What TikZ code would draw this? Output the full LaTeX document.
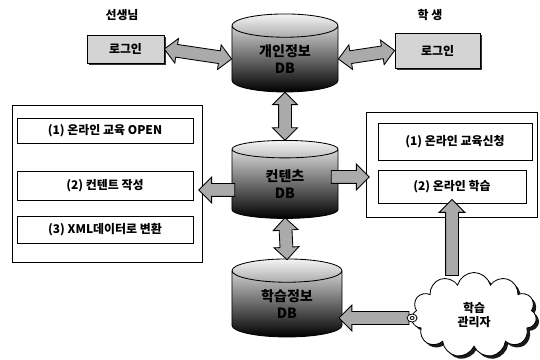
\documentclass[tikz,border=0pt]{standalone}
\usepackage{fontspec}
\setmainfont{Noto Sans CJK KR}
\usepackage{tikz}
\usetikzlibrary{positioning,calc,shapes.geometric,shapes.arrows,shapes.symbols,shadows}
\definecolor{boxgray}{RGB}{212,212,212}
\definecolor{arrgray}{RGB}{170,170,170}

\begin{document}
\begin{tikzpicture}[x=0.025cm,y=-0.025cm,line width=0.6pt,
    font=\fontsize{8.5}{10}\selectfont\bfseries]
  \tikzset{
    login/.style={draw,fill=boxgray,inner sep=0pt,
      drop shadow={shadow xshift=1.5pt,shadow yshift=-1.5pt,fill=black,opacity=0.8}},
    dbcyl/.style={cylinder,shape border rotate=90,draw,aspect=0.45,inner sep=0pt,
      top color=gray!8,middle color=gray!55,bottom color=black,
      minimum width=2.65cm,minimum height=1.95cm,align=center,
      font=\fontsize{10}{12}\selectfont\bfseries},
    outerbox/.style={draw,fill=white,inner sep=0pt},
    stepbox/.style={draw,fill=white,inner sep=0pt,
      drop shadow={shadow xshift=0.8pt,shadow yshift=-0.8pt,fill=black,opacity=0.9}},
    dblarr/.style={double arrow,draw,fill=arrgray,inner xsep=0pt,inner ysep=0.15cm,
      double arrow head extend=0.15cm,sloped,allow upside down},
    sarr/.style={single arrow,draw,fill=arrgray,inner xsep=0pt,inner ysep=0.15cm,
      single arrow head extend=0.16cm,sloped,allow upside down},
  }
  \useasboundingbox (0,0) rectangle (540,360);
  % titles
  \node (tlabel) at (122,15) {선생님};
  \node (slabel) at (430,15) {학 생};
  % login boxes
  \node[login,minimum width=1.925cm,minimum height=0.7cm] (tlogin) at (125.5,49) {로그인};
  \node[login,minimum width=2.125cm,minimum height=0.875cm] (slogin) at (437.5,50.5) {로그인};
  % databases
  \node[dbcyl] (pinfo) at (285,59) {개인정보\\DB};
  \node[dbcyl] (cont) at (285,184) {컨텐츠\\DB};
  \node[dbcyl,minimum width=2.75cm] (lrn) at (287,304) {학습정보\\DB};
  % teacher side
  \node[outerbox,minimum width=4.75cm,minimum height=3.925cm] (lbox) at (107,183.5) {};
  \node[stepbox,minimum width=4.4cm,minimum height=0.625cm] (l1) at (105,130.5) {(1) 온라인 교육 OPEN};
  \node[stepbox,minimum width=4.4cm,minimum height=0.725cm] (l2) at (105,185.5) {(2) 컨텐트 작성};
  \node[stepbox,minimum width=4.4cm,minimum height=0.675cm] (l3) at (105,229.5) {(3) XML데이터로 변환};
  % student side
  \node[outerbox,minimum width=4.275cm,minimum height=2.625cm] (rbox) at (451.5,164.5) {};
  \node[stepbox,minimum width=3.85cm,minimum height=0.925cm] (r1) at (455,141.5) {(1) 온라인 교육신청};
  \node[stepbox,minimum width=3.7cm,minimum height=0.825cm] (r2) at (452,186.5) {(2) 온라인 학습};
  % manager
  \node[cloud,draw,fill=white,cloud puffs=11,aspect=1.5,inner sep=0pt,
    minimum width=3.125cm,minimum height=2.125cm,align=center,
    drop shadow={shadow xshift=2pt,shadow yshift=-2pt,fill=black,opacity=0.9}]
    (mgr) at (474,315) {학습\\관리자};
  % block arrows
  \path (tlogin.east) -- node[dblarr,minimum height=1.7cm]{} (pinfo.west);
  \path (pinfo.east) -- node[dblarr,minimum height=1.42cm]{} (slogin.west);
  \path (pinfo.south) -- node[dblarr,minimum height=1.2cm]{} (cont.north);
  \path (cont.south) -- node[dblarr,minimum height=1.05cm]{} (lrn.north);
  \path ($(cont.west)+(6,6)$) -- node[sarr,minimum height=0.9cm]{} (lbox.east |- {$(cont.west)+(6,6)$});
  \path ($(cont.east)+(-10,-7)$) -- node[sarr,minimum height=0.95cm]{} (rbox.west |- {$(cont.east)+(-10,-7)$});
  \path ($(r2.south |- mgr.north)+(0,6)$) -- node[sarr,minimum height=1.9cm]{} (r2.south);
  \path ($(mgr.west)+(0,3)$) coordinate (mw) -- node[sarr,minimum height=1.75cm]{} (lrn.east |- mw);
  \draw[fill=white] (mw) ellipse (5 and 4);
  \draw (mw) ellipse (2 and 1.5);
\end{tikzpicture}
\end{document}
